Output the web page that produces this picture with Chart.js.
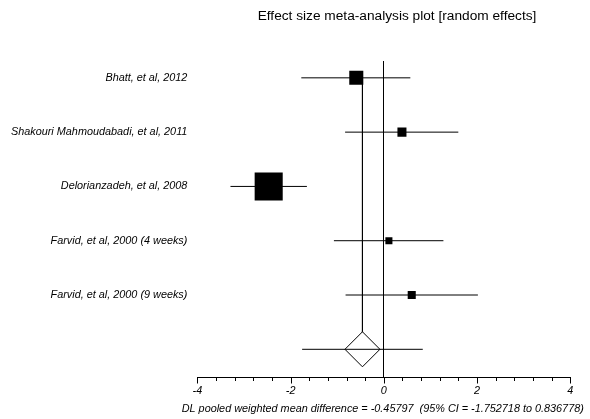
<!DOCTYPE html>
<html>
<head>
<meta charset="utf-8">
<script src="https://cdn.jsdelivr.net/npm/chart.js@4/dist/chart.umd.min.js"></script>
<style>
  html, body { margin: 0; padding: 0; background: #fff; }
  canvas { display: block; }
</style>
</head>
<body>
<canvas id="forest" width="590" height="419"></canvas>
<script>
// Study labels, point estimates, 95% confidence limits and weights (%)
const studies = [
  'Bhatt, et al, 2012',
  'Shakouri Mahmoudabadi, et al, 2011',
  'Delorianzadeh, et al, 2008',
  'Farvid, et al, 2000 (4 weeks)',
  'Farvid, et al, 2000 (9 weeks)'
];
const effects = [-0.59, 0.39, -2.47, 0.11, 0.60];
const lowerCI = [-1.77, -0.83, -3.29, -1.07, -0.82];
const upperCI = [0.57, 1.60, -1.65, 1.28, 2.02];
const weights = [16.7, 6.9, 66.7, 4.2, 5.5];

// DerSimonian-Laird pooled estimate
const pooled = -0.45797;
const pooledLower = -1.752718;
const pooledUpper = 0.836778;

// Axis ticks
const xTicks = [-4, -3.6, -3.2, -2.8, -2.4, -2, -1.6, -1.2, -0.8, -0.4, 0,
                0.4, 0.8, 1.2, 1.6, 2, 2.4, 2.8, 3.2, 3.6, 4];
const xLabelled = [-4, -2, 0, 2, 4];

const titleText = 'Effect size meta-analysis plot [random effects]';
const captionText = 'DL pooled weighted mean difference = ' + pooled +
  '  (95% CI = ' + pooledLower + ' to ' + pooledUpper + ')';

const FONT = '"Liberation Sans", Arial, sans-serif';
const LABEL_SIZE = 10.85;
const pooledRow = studies.length + 1;

// square side grows with the square root of the study weight
const squareRadius = w => 2.43 * Math.sqrt(w);

const datasets = [];

// confidence interval whiskers for each study
studies.forEach((s, i) => {
  datasets.push({
    type: 'line',
    data: [{ x: lowerCI[i], y: i + 1 }, { x: upperCI[i], y: i + 1 }],
    borderColor: '#000',
    borderWidth: 1,
    pointRadius: 0,
    order: 3
  });
});

// study estimates as weighted squares
datasets.push({
  type: 'scatter',
  data: effects.map((e, i) => ({ x: e, y: i + 1 })),
  pointStyle: 'rect',
  pointRadius: weights.map(squareRadius),
  backgroundColor: '#000',
  borderWidth: 0,
  order: 1
});

// vertical line at the pooled estimate
datasets.push({
  type: 'line',
  data: [{ x: pooled, y: 1 }, { x: pooled, y: pooledRow }],
  borderColor: '#000',
  borderWidth: 1,
  pointRadius: 0,
  order: 6
});

// pooled diamond
datasets.push({
  type: 'scatter',
  data: [{ x: pooled, y: pooledRow }],
  pointStyle: 'rectRot',
  pointRadius: 17.5,
  backgroundColor: '#fff',
  borderColor: '#000',
  borderWidth: 1,
  order: 5
});

// pooled confidence interval
datasets.push({
  type: 'line',
  data: [{ x: pooledLower, y: pooledRow }, { x: pooledUpper, y: pooledRow }],
  borderColor: '#000',
  borderWidth: 1,
  pointRadius: 0,
  order: 4
});

// headline, caption and downward tick marks on the effect axis
const decorations = {
  id: 'decorations',
  afterDraw(chart) {
    const ctx = chart.ctx;
    const xs = chart.scales.x;
    const base = Math.round(chart.chartArea.bottom) + 0.5;
    ctx.save();
    ctx.strokeStyle = '#000';
    ctx.lineWidth = 1;
    xs.ticks.forEach(t => {
      const px = Math.round(xs.getPixelForValue(t.value)) + 0.5;
      const len = xLabelled.includes(t.value) ? 6 : 3.5;
      ctx.beginPath();
      ctx.moveTo(px, base - 0.5);
      ctx.lineTo(px, base + len);
      ctx.stroke();
    });
    ctx.fillStyle = '#000';
    ctx.textAlign = 'center';
    ctx.textBaseline = 'middle';
    ctx.font = '13.7px ' + FONT;
    ctx.fillText(titleText, 397, 16.5);
    ctx.font = 'italic ' + LABEL_SIZE + 'px ' + FONT;
    ctx.fillText(captionText, (xs.left + xs.right) / 2 - 1, 408.5);
    ctx.restore();
  }
};

new Chart(document.getElementById('forest'), {
  data: { datasets },
  options: {
    responsive: false,
    animation: false,
    layout: { padding: { top: 61, right: 19.8, left: 0, bottom: 0 } },
    plugins: {
      legend: { display: false },
      tooltip: { enabled: false },
      title: { display: false }
    },
    scales: {
      x: {
        type: 'linear',
        min: -4,
        max: 4,
        afterBuildTicks: scale => { scale.ticks = xTicks.map(v => ({ value: v })); },
        afterFit: scale => { scale.height = 42; },
        ticks: {
          autoSkip: false,
          maxRotation: 0,
          padding: 7.5,
          color: '#000',
          font: { family: FONT, size: LABEL_SIZE, style: 'italic' },
          callback: v => (xLabelled.includes(v) ? String(v) : '')
        },
        grid: {
          drawTicks: false,
          drawOnChartArea: true,
          lineWidth: 1,
          color: c => (c.tick && c.tick.value === 0 ? '#000' : 'rgba(0,0,0,0)')
        },
        border: { display: true, color: '#000', width: 1 }
      },
      y: {
        type: 'linear',
        reverse: true,
        min: 0.69,
        max: 6.51,
        afterBuildTicks: scale => { scale.ticks = studies.map((s, i) => ({ value: i + 1 })); },
        afterFit: scale => { scale.width = 197.4; },
        ticks: {
          autoSkip: false,
          padding: 10,
          color: '#000',
          font: { family: FONT, size: LABEL_SIZE, style: 'italic' },
          callback: v => studies[v - 1] || ''
        },
        grid: { display: false, drawTicks: false },
        border: { display: false }
      }
    }
  },
  plugins: [decorations]
});
</script>
</body>
</html>
